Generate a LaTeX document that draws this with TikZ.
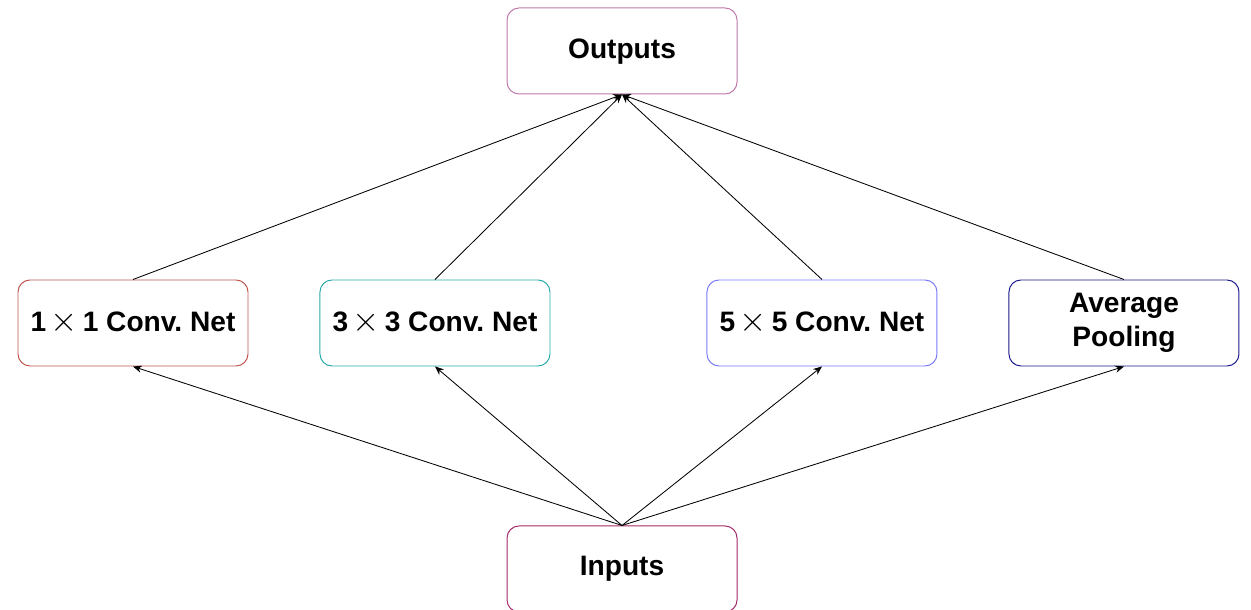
\documentclass[tikz,border=0pt]{standalone}
\usepackage{fontspec}
\setmainfont{Liberation Sans}
\usepackage{tikz}
\usetikzlibrary{arrows.meta, positioning}
\definecolor{cOut}{RGB}{190,120,170}
\definecolor{cIn}{RGB}{165,40,105}
\definecolor{cRed}{RGB}{190,85,80}
\definecolor{cTeal}{RGB}{40,170,170}
\definecolor{cLav}{RGB}{120,120,250}
\definecolor{cNavy}{RGB}{25,25,140}
\tikzset{
	layer/.style={rectangle, rounded corners=0.3cm, minimum width=5.75cm, minimum height=2.15cm, text centered, align=center, draw, line width=0.7pt, fill=white, font=\fontsize{20}{24}\selectfont\bfseries},
	flow/.style ={-{Stealth[length=2.2mm, width=1.8mm]}, line width=0.6pt},
}
\newcommand{\crossby}{\,{\fontsize{26}{26}\selectfont$\times$}\,}
\frenchspacing
\begin{document}
\begin{tikzpicture}
	\useasboundingbox (0,0) rectangle (31.275,15.25);
	\node[layer, draw=cOut, text depth=0.1cm] (out) at (15.55,13.975) {Outputs};
	\node[layer, draw=cRed] (c1) at (3.325,7.175) {1\crossby1 Conv. Net};
	\node[layer, draw=cTeal, right=1.775cm of c1] (c3) {3\crossby3 Conv. Net};
	\node[layer, draw=cLav, right=3.9cm of c3] (c5) {5\crossby5 Conv. Net};
	\node[layer, draw=cNavy, right=1.775cm of c5] (pool) {Average\\Pooling};
	\node[layer, draw=cIn, below=3.975cm of c1.south -| out, anchor=north] (in) {Inputs};
	\draw[flow] (in.north) -- (c1.south); \draw[flow] (in.north) -- (c3.south);
	\draw[flow] (in.north) -- (c5.south); \draw[flow] (in.north) -- (pool.south);
	\draw[flow] (c1.north) -- (out.south); \draw[flow] (c3.north) -- (out.south);
	\draw[flow] (c5.north) -- (out.south); \draw[flow] (pool.north) -- (out.south);
\end{tikzpicture}
\end{document}
